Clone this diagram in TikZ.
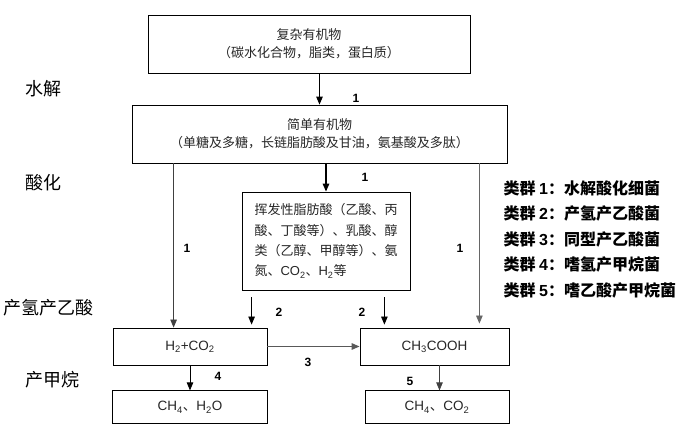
\documentclass[tikz,border=0pt]{standalone}
\usepackage{fontspec}
\setmainfont{Liberation Sans}
\newfontfamily\cjk{Noto Sans CJK SC}
\usetikzlibrary{positioning,arrows.meta}

\begin{document}
\begin{tikzpicture}[x=1pt,y=-1pt,>={Triangle[length=8pt,width=6.5pt]},
    box/.style={draw,line width=0.8pt,inner sep=0pt,align=center,text=black!85,
        font=\cjk\fontsize{13}{18}\selectfont},
    chem/.style={box,font=\rmfamily\fontsize{13.5}{16}\selectfont},
    stage/.style={font=\cjk\fontsize{18}{20}\selectfont},
    grp/.style={anchor=west,font=\cjk\bfseries\fontsize{16}{18}\selectfont},
    num/.style={font=\bfseries\fontsize{12}{13}\selectfont},
    arr/.style={->,line width=0.8pt}]
    \useasboundingbox (0,0) rectangle (689,435);
    % boxes
    \node[box, minimum width=322pt, minimum height=58pt] (complex) at (309,44)
        {复杂有机物\\（碳水化合物，脂类，蛋白质）};
    \node[box, minimum width=375pt, minimum height=58pt] (simple) at (319.5,134)
        {简单有机物\\（单糖及多糖，长链脂肪酸及甘油，氨基酸及多肽）};
    \node[box, minimum width=168pt, minimum height=98pt, text width=143pt, align=left,
        font=\cjk\fontsize{13}{20.3}\selectfont] (vfa) at (326,241)
        {挥发性脂肪酸（乙酸、丙\\酸、丁酸等）、乳酸、醇\\类（乙醇、甲醇等）、氨\\氮、{\rmfamily CO\textsubscript{2}}、{\rmfamily H\textsubscript{2}}等};
    \node[chem, minimum width=154pt, minimum height=37pt] (h2co2) at (190,346.5)
        {H\textsubscript{2}+CO\textsubscript{2}};
    \node[chem, minimum width=149pt, minimum height=37pt] (acetic) at (434.5,346.5)
        {CH\textsubscript{3}COOH};
    \node[chem, minimum width=155pt, minimum height=33pt] (out_h2) [below=25pt of h2co2]
        {CH\textsubscript{4}{\cjk 、}H\textsubscript{2}O};
    \node[chem, minimum width=144pt, minimum height=33pt, xshift=2.5pt] (out_ac) [below=25pt of acetic]
        {CH\textsubscript{4}{\cjk 、}CO\textsubscript{2}};

    % stages
    \node[stage] (s_hyd) at (44,89) {水解};
    \node[stage] (s_acid) at (44,183) {酸化};
    \node[stage] (s_ace) at (49,308) {产氢产乙酸};
    \node[stage] (s_meth) at (53,380) {产甲烷};

    % groups
    \foreach \i/\t in {1/水解酸化细菌,2/产氢产乙酸菌,3/同型产乙酸菌,4/嗜氢产甲烷菌,5/嗜乙酸产甲烷菌}
        \node[grp] (g_\i) at (500,{162.5+25.5*\i}) {类群 {\rmfamily\i}：\t};

    % arrows
    \draw[arr, line width=1pt] (complex.south -| simple.north) -- (simple.north);
    \draw[arr, line width=1.3pt] (simple.south -| vfa.north) -- (vfa.north);
    \draw[arr, black!75] ([xshift=42pt]simple.south west) -- ([xshift=42pt]simple.south west |- h2co2.north);
    \draw[arr, black!60, shorten >=4pt] ([xshift=-28pt]simple.south east) -- ([xshift=-28pt]simple.south east |- acetic.north);
    \draw[arr, shorten <=7pt, shorten >=3pt] ([xshift=10pt]vfa.south west) -- ([xshift=10pt]vfa.south west |- h2co2.north);
    \draw[arr, shorten <=7pt, shorten >=3pt] ([xshift=-26pt]vfa.south east) -- ([xshift=-26pt]vfa.south east |- acetic.north);
    \draw[arr, black!65, line width=1.3pt] (h2co2) -- (acetic);
    \draw[arr] (h2co2.south) -- (h2co2.south |- out_h2.north);
    \draw[arr, black!75] ([xshift=5pt]acetic.south) -- ([xshift=5pt]acetic.south |- out_ac.north);

    % numbers
    \node[num] (n_1a) at (356,98) {1};
    \node[num] (n_1b) at (365,177) {1};
    \node[num] (n_1c) at (187,248) {1};
    \node[num] (n_1d) at (460,248) {1};
    \node[num] (n_2a) at (279,312) {2};
    \node[num] (n_2b) at (362,312) {2};
    \node[num] (n_3) at (308,362) {3};
    \node[num] (n_4) at (218,376) {4};
    \node[num] (n_5) at (410,381) {5};
\end{tikzpicture}
\end{document}
